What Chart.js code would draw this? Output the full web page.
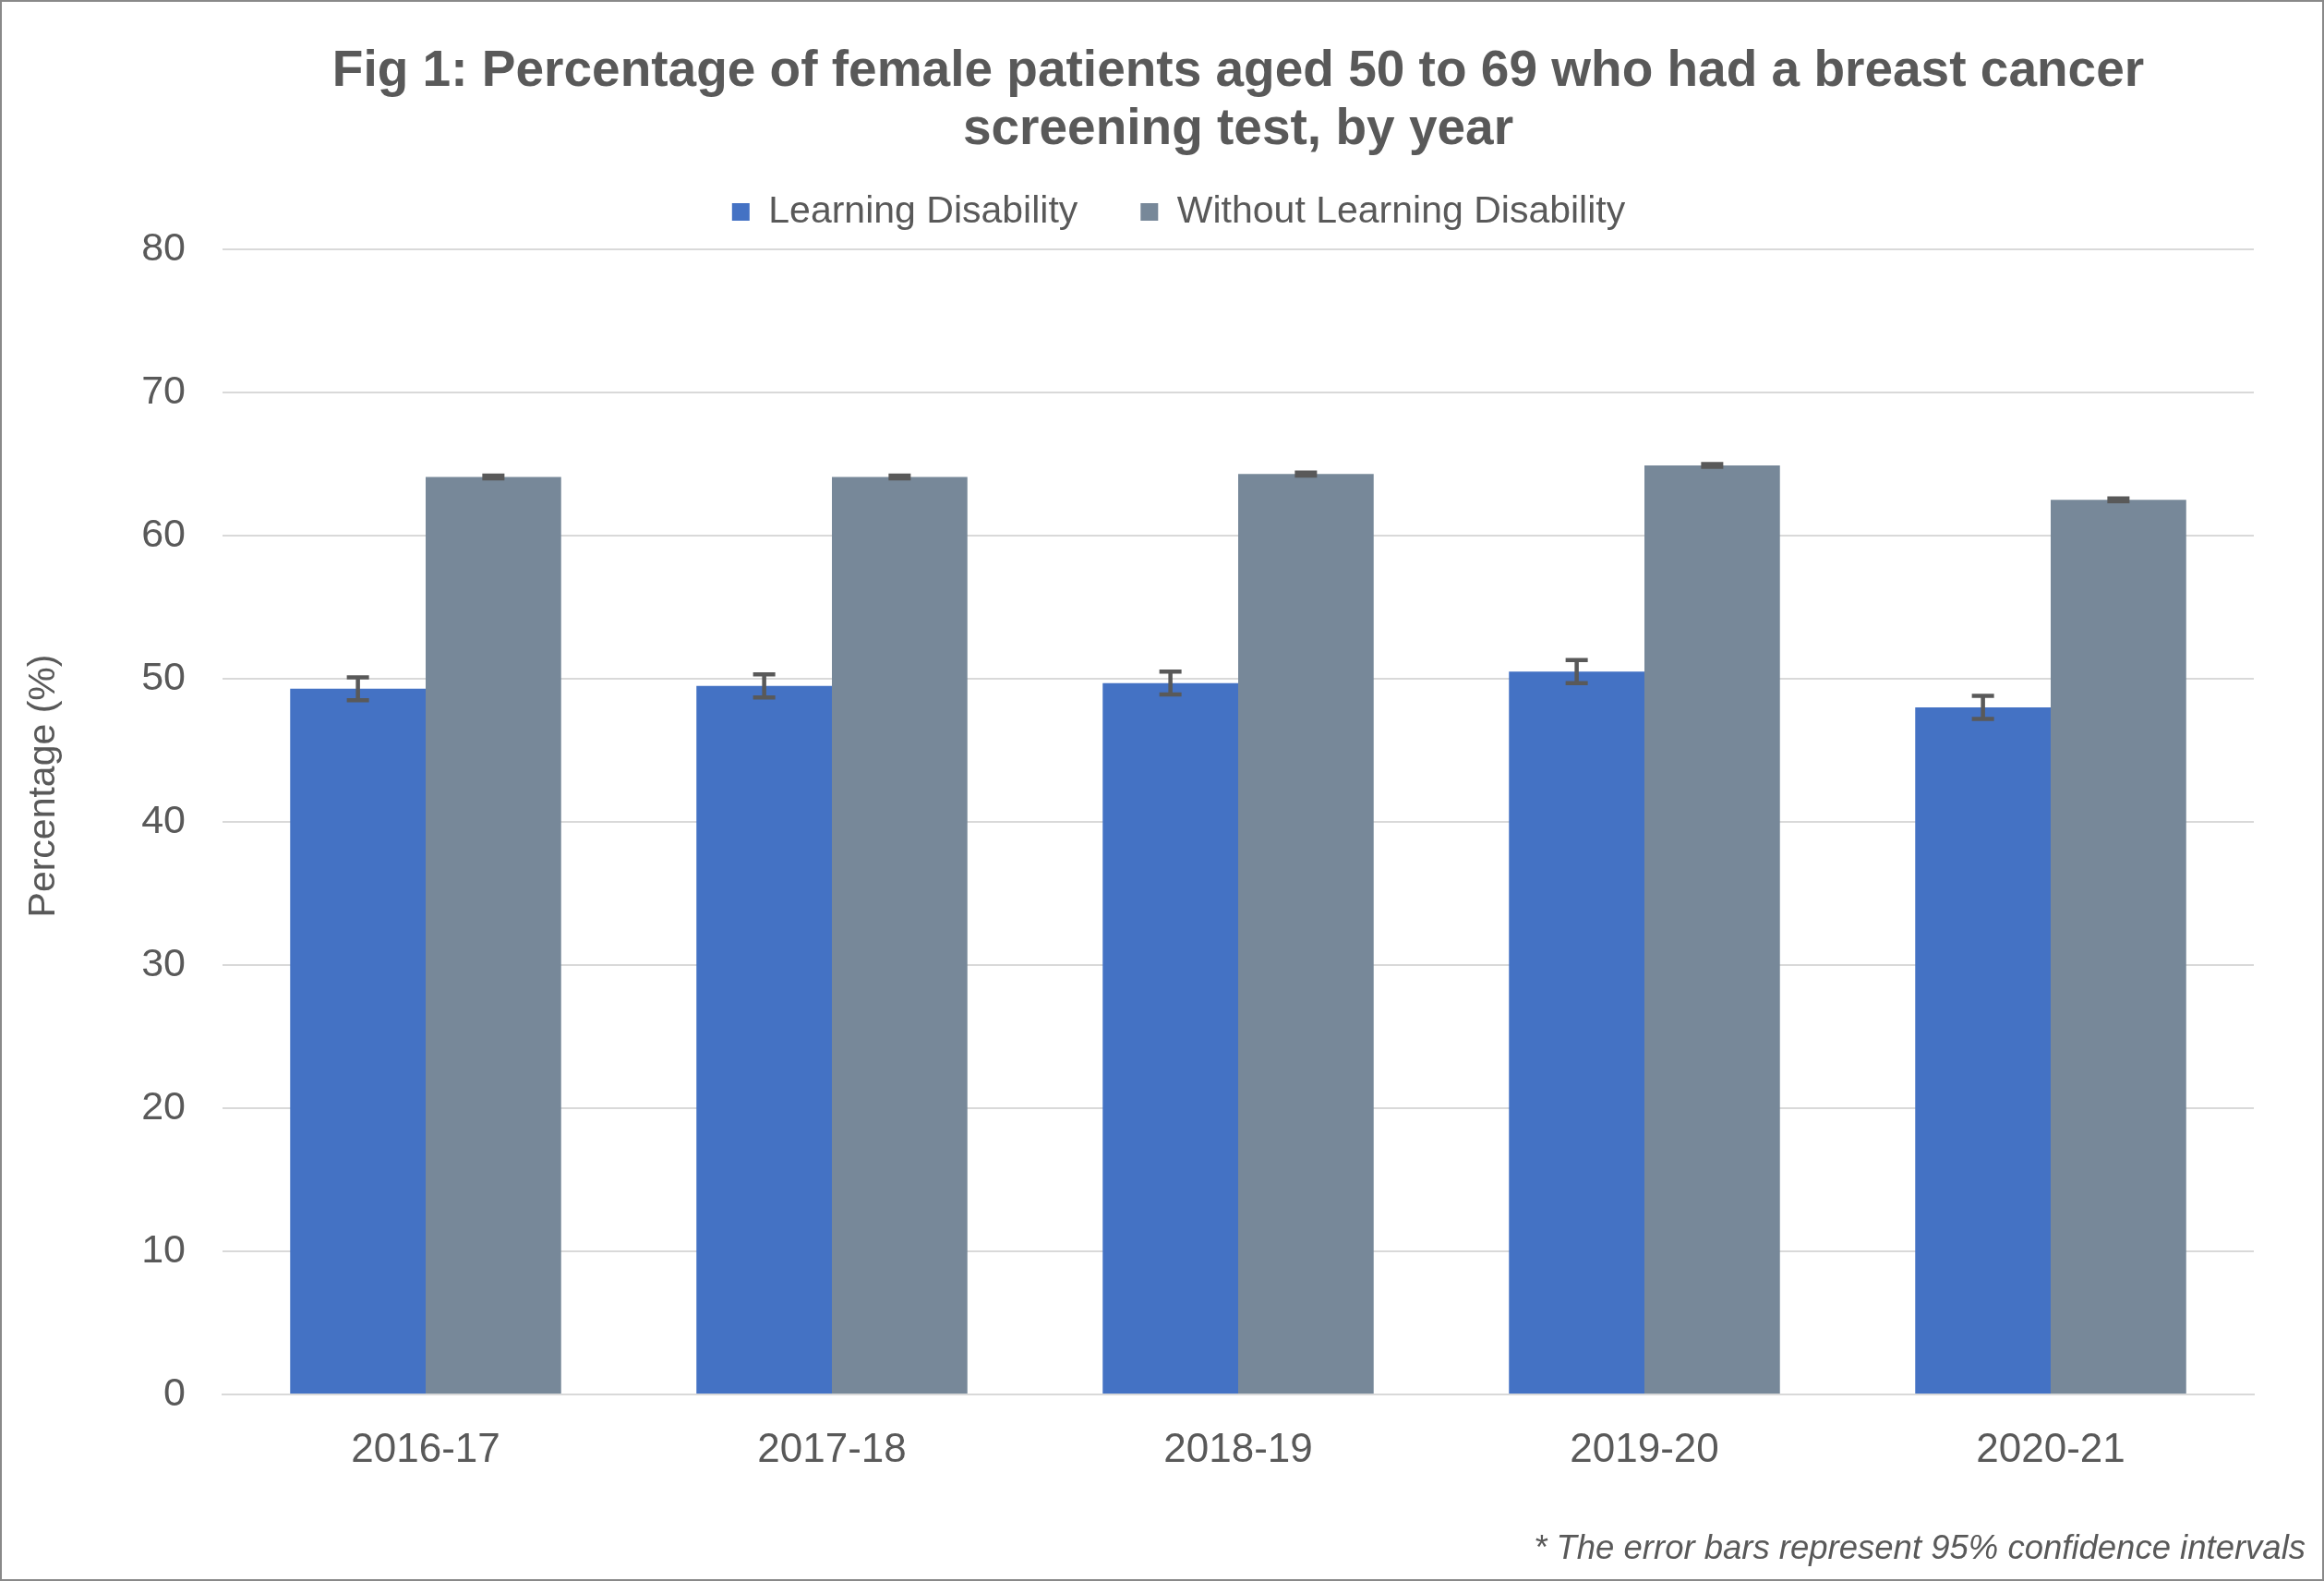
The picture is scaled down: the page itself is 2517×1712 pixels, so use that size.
<!DOCTYPE html>
<html>
<head>
<meta charset="utf-8">
<script src="https://cdn.jsdelivr.net/npm/chart.js@4.4.1/dist/chart.umd.min.js"></script>
<style>
html, body { margin: 0; padding: 0; background: #fff; }
#wrap { width: 2517px; height: 1712px; position: relative; }
</style>
</head>
<body>
<div id="wrap"><canvas id="screening_chart"></canvas></div>
<script>
var years = ['2016-17', '2017-18', '2018-19', '2019-20', '2020-21'];
var ld_values = [49.3, 49.5, 49.7, 50.5, 48.0];
var ld_errors = [0.8, 0.8, 0.8, 0.8, 0.8];
var without_values = [64.1, 64.1, 64.3, 64.9, 62.5];
var without_errors = [0.1, 0.1, 0.1, 0.1, 0.1];
var y_tick_values = [0, 10, 20, 30, 40, 50, 60, 70, 80];

var title_lines = ['Fig 1: Percentage of female patients aged 50 to 69 who had a breast cancer', 'screening test, by year'];
var y_title = 'Percentage (%)';
var footnote = '* The error bars represent 95% confidence intervals';

var text_grey = '#595959';
var font_family = '"Liberation Sans", Arial, sans-serif';

// error bars, drawn on top of each bar using the y scale
var errorBarPlugin = {
    id: 'errorBars',
    afterDatasetsDraw: function (chart) {
        var ctx = chart.ctx;
        var ys = chart.scales.y;
        ctx.save();
        ctx.strokeStyle = '#595959';
        ctx.lineWidth = 4.5;
        chart.data.datasets.forEach(function (ds, i) {
            var meta = chart.getDatasetMeta(i);
            meta.data.forEach(function (bar, j) {
                var v = ds.data[j];
                var e = ds.errors[j];
                var top = ys.getPixelForValue(v + e);
                var bottom = ys.getPixelForValue(v - e);
                ctx.beginPath();
                ctx.moveTo(bar.x, top);
                ctx.lineTo(bar.x, bottom);
                ctx.moveTo(bar.x - 12, top);
                ctx.lineTo(bar.x + 12, top);
                ctx.moveTo(bar.x - 12, bottom);
                ctx.lineTo(bar.x + 12, bottom);
                ctx.stroke();
            });
        });
        ctx.restore();
    }
};

// centre title on the plot area, nudge legend like the original
var placementPlugin = {
    id: 'placement',
    afterLayout: function (chart) {
        var ca = chart.chartArea;
        chart.titleBlock.left = ca.left;
        chart.titleBlock.right = ca.right;
        chart.legend.left += 46;
        chart.legend.right += 46;
        chart.legend.top -= 10;
    }
};

// outer frame, rotated axis title and footnote
var framePlugin = {
    id: 'frame',
    afterDraw: function (chart) {
        var ctx = chart.ctx;
        ctx.save();
        ctx.strokeStyle = '#898989';
        ctx.lineWidth = 2;
        ctx.strokeRect(1, 1, chart.width - 2, chart.height - 2);
        ctx.fillStyle = text_grey;
        ctx.font = 'italic 36.5px ' + font_family;
        ctx.textAlign = 'right';
        ctx.textBaseline = 'middle';
        ctx.fillText(footnote, chart.width - 20, 1678);
        ctx.translate(48, 851);
        ctx.rotate(-Math.PI / 2);
        ctx.textAlign = 'center';
        ctx.font = '41px ' + font_family;
        ctx.fillText(y_title, 0, 0);
        ctx.restore();
    }
};

var sc = document.getElementById('screening_chart');
var screeningChart = new Chart(sc, {
    type: 'bar',
    data: {
        labels: years,
        datasets: [{
            label: 'Learning Disability',
            data: ld_values,
            errors: ld_errors,
            backgroundColor: '#4472C4'
        },
        {
            label: 'Without Learning Disability',
            data: without_values,
            errors: without_errors,
            backgroundColor: '#778899'
        }]
    },
    options: {
        responsive: true,
        maintainAspectRatio: false,
        devicePixelRatio: 1,
        animation: false,
        datasets: {
            bar: {
                categoryPercentage: 0.667,
                barPercentage: 1.0
            }
        },
        layout: {
            padding: { top: 20, left: 20, right: 76, bottom: 0 }
        },
        plugins: {
            title: {
                display: true,
                text: title_lines,
                color: text_grey,
                font: { family: font_family, size: 55, weight: 'bold', lineHeight: 63 / 55 },
                padding: { top: 26, bottom: -21 }
            },
            legend: {
                display: true,
                position: 'top',
                labels: {
                    color: text_grey,
                    font: { family: font_family, size: 41 },
                    boxWidth: 19,
                    boxHeight: 19,
                    padding: 68
                }
            },
            tooltip: { enabled: false }
        },
        scales: {
            x: {
                grid: { display: false },
                border: { display: true, color: '#d9d9d9', width: 2 },
                ticks: {
                    color: text_grey,
                    font: { family: font_family, size: 44 },
                    padding: 26
                },
                afterFit: function (scale) { scale.height = 202; }
            },
            y: {
                min: 0,
                max: 80,
                afterBuildTicks: function (scale) {
                    scale.ticks = y_tick_values.map(function (v) { return { value: v }; });
                },
                grid: { color: '#d9d9d9', lineWidth: 2, drawTicks: false },
                border: { display: false },
                ticks: {
                    color: text_grey,
                    font: { family: font_family, size: 43 },
                    padding: 40
                },
                afterFit: function (scale) { scale.width = 221; }
            }
        }
    },
    plugins: [errorBarPlugin, placementPlugin, framePlugin]
});
</script>
</body>
</html>
